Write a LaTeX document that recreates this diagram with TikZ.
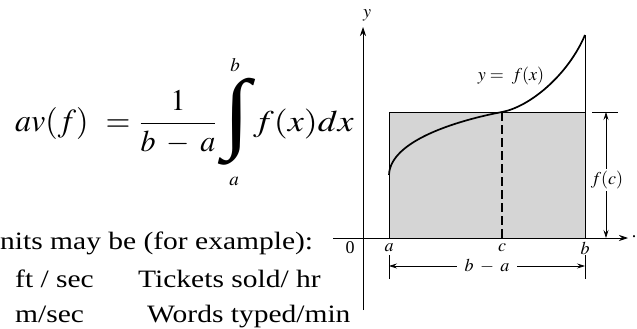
\documentclass[tikz,border=0pt]{standalone}
\usepackage{mathptmx}
\usepackage{fontspec}
\setmainfont{Liberation Serif}
\newfontfamily\intfont{Liberation Serif}
\usepackage{graphicx}
\usetikzlibrary{arrows.meta}
\newcommand\hstr[1]{\scalebox{1.18}[1]{#1}}
\newcommand\fbig{\fontsize{30}{35}\selectfont}
\newcommand\fbigger{\fontsize{32}{37}\selectfont}
\newcommand\ftxt{\fontsize{25}{30}\selectfont}
\newcommand\flab{\fontsize{18}{21}\selectfont}
\tikzset{
  lbl/.style={inner sep=0pt},
  txt/.style={anchor=base west, inner sep=0pt},
  eq/.style={anchor=base, inner sep=0pt},
  axis/.style={line width=0.8pt, -{Stealth[length=9pt,width=6pt,inset=3pt]}},
  dim/.style={line width=0.7pt, {Stealth[length=8pt,width=5pt,inset=3pt]}-{Stealth[length=8pt,width=5pt,inset=3pt]}},
  curve/.style={line width=1.7pt},
}
\begin{document}
\begin{tikzpicture}[x=1pt,y=-1pt]
\useasboundingbox[fill=white] (0,0) rectangle (637,329);
% formula
\node[txt] (av) at (15,131) {\fbigger$av(f)$};
\node[eq] (eqs) at (118,131) {\fbigger$=$};
\node[eq] (frac) at (178,131) {\fbig$\displaystyle\frac{1}{b\;-\;a}$};
\node[lbl] (int) at (237,122) {\resizebox*{27pt}{87pt}{\intfont ∫}};
\node[lbl] (ub) at (235,65) {\fontsize{19}{22}\selectfont$b$};
\node[lbl] (lb) at (234,181) {\fontsize{19}{22}\selectfont$a$};
\node[txt] (rhs) at (253,131) {\scalebox{1.2}[1]{\fbig$f(x)dx$}};
% text
\node[txt] (t1) at (0,249) {\hstr{\ftxt nits may be (for example):}};
\node[txt] (t2a) at (15,287) {\hstr{\ftxt ft / sec}};
\node[txt] (t2b) at (138,287) {\hstr{\ftxt Tickets sold/ hr}};
\node[txt] (t3a) at (15,322) {\hstr{\ftxt m/sec}};
\node[txt] (t3b) at (147,322) {\hstr{\ftxt Words typed/min}};
% graph coordinates
\coordinate (ybot) at (363,310);
\coordinate (ytop) at (363,27);
\coordinate (xl) at (333,238);
\coordinate (xr) at (628,238);
\coordinate (A) at (389,238);
\coordinate (B) at (585,238);
\coordinate (C) at (502,238);
\coordinate (At) at (389,112);
\coordinate (Bt) at (585,112);
\coordinate (Ct) at (502,112);
\coordinate (Btop) at (585,35);
\coordinate (F0) at (389,175);
% shaded rectangle
\fill[gray!33] (At) rectangle (B);
\draw[line width=0.8pt] (A) -- (At) -- (Bt);
\draw[line width=0.8pt] (B) -- (Btop);
% curve
\draw[curve] (F0) .. controls (390,140) and (460,120) .. (Ct)
  .. controls (530,106.7) and (568,75) .. (Btop);
\draw[line width=1.2pt, dash pattern=on 9pt off 4pt] (Ct) -- (C);
% axes
\draw[axis] (ybot) -- (ytop);
\draw[axis] (xl) -- (xr);
\node[lbl] (ylab) at (367,15) {\flab$y$};
\node[lbl] (dot) at (634,237) {\flab .};
% f(c) dimension
\coordinate (fl) at (592,112);
\coordinate (fr) at (618,112);
\coordinate (ft) at (606,112);
\coordinate (fb) at (606,238);
\draw[line width=0.7pt] (fl) -- (fr);
\draw[dim] (ft) -- (fb);
\node[lbl, fill=white, inner sep=2pt] (fc) at (607,180) {\flab$f(c)$};
% axis labels
\node[lbl] (l0) at (350,248) {\flab 0};
\node[lbl] (la) at (389,248) {\flab$a$};
\node[lbl] (lc) at (502,248) {\flab$c$};
\node[lbl] (lb2) at (585,248) {\flab$b$};
% b - a dimension
\coordinate (ta1) at (389,255);
\coordinate (ta2) at (389,279);
\coordinate (tb1) at (585,255);
\coordinate (tb2) at (585,279);
\draw[line width=0.7pt] (ta1) -- (ta2);
\draw[line width=0.7pt] (tb1) -- (tb2);
\coordinate (da) at (389,266);
\coordinate (db) at (585,266);
\draw[dim] (da) -- (db);
\node[lbl, fill=white, inner xsep=8pt] (ba) at (487,266) {\flab$b\;-\;a$};
% curve label
\node[lbl] (yf) at (511,76) {\flab$y=\;f(x)$};
\end{tikzpicture}
\end{document}
